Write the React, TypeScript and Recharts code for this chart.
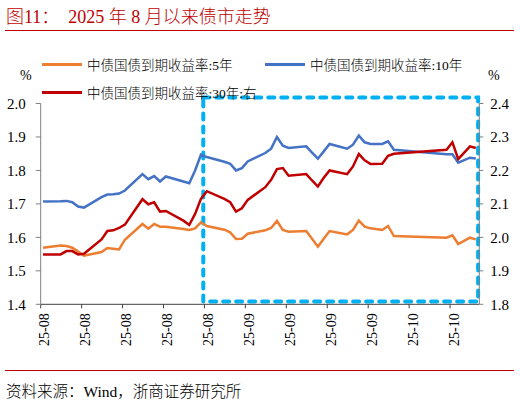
import { LineChart, Line, XAxis, YAxis, ReferenceArea } from "recharts";

// trading days, counted as days since 2025-08-01
const days = [
  0, 3, 4, 5, 6, 7, 10, 11, 12, 13, 14, 17, 18, 19, 20, 21, 24, 25, 26, 27, 28,
  31, 32, 33, 34, 35, 38, 39, 40, 41, 42, 45, 46, 47, 48, 49, 52, 53, 54, 55, 56,
  58, 59, 60, 69, 70, 71, 73, 74,
];

// 中债国债到期收益率:5年 (left axis)
const y5 = [
  1.569, 1.576, 1.574, 1.569, 1.558, 1.545, 1.556, 1.568, 1.566, 1.564, 1.593,
  1.64, 1.626, 1.64, 1.632, 1.632, 1.625, 1.622, 1.627, 1.645, 1.634,
  1.623, 1.615, 1.595, 1.596, 1.611, 1.621, 1.628, 1.649, 1.622, 1.617,
  1.619, 1.596, 1.572, 1.596, 1.619, 1.609, 1.622, 1.65, 1.632, 1.627,
  1.622, 1.634, 1.604, 1.599, 1.606, 1.58, 1.599, 1.594,
];

// 中债国债到期收益率:10年 (left axis)
const y10 = [
  1.707, 1.708, 1.709, 1.705, 1.692, 1.689, 1.72, 1.728, 1.729, 1.731, 1.74,
  1.789, 1.774, 1.783, 1.767, 1.782, 1.767, 1.762, 1.8, 1.847, 1.84,
  1.826, 1.82, 1.8, 1.807, 1.827, 1.852, 1.865, 1.9, 1.874, 1.867,
  1.872, 1.853, 1.835, 1.857, 1.879, 1.865, 1.877, 1.904, 1.884, 1.879,
  1.879, 1.887, 1.862, 1.848, 1.848, 1.823, 1.838, 1.836,
];

// 中债国债到期收益率:30年 (right axis)
const y30 = [
  1.949, 1.949, 1.959, 1.959, 1.949, 1.951, 1.994, 2.019, 2.021, 2.028, 2.038,
  2.114, 2.099, 2.105, 2.077, 2.079, 2.05, 2.037, 2.07, 2.115, 2.138,
  2.115, 2.105, 2.077, 2.087, 2.112, 2.15, 2.172, 2.204, 2.207, 2.184,
  2.189, 2.17, 2.152, 2.178, 2.2, 2.189, 2.212, 2.249, 2.23, 2.219,
  2.22, 2.244, 2.25, 2.262, 2.284, 2.234, 2.272, 2.267,
];

const xTickLabels = [
  "25-08", "25-08", "25-08", "25-08", "25-08",
  "25-09", "25-09", "25-09", "25-09",
  "25-10", "25-10",
];
const leftTicks = [1.4, 1.5, 1.6, 1.7, 1.8, 1.9, 2.0];
const rightTicks = [1.8, 1.9, 2.0, 2.1, 2.2, 2.3, 2.4];

const data = days.map((d, i) => ({ d, y5: y5[i], y10: y10[i], y30: y30[i] }));
const xTicks = xTickLabels.map((_, i) => i * 7 - 0.4);

const FONT = "'Liberation Serif', 'Noto Sans CJK SC', serif";
const RED = "#C00000";

const XTick = (props: any) => {
  const { x, y, index } = props;
  return (
    <text
      transform={`translate(${x + 4},${y + 3}) rotate(-90)`}
      textAnchor="end"
      dominantBaseline="central"
      fontSize={14}
      fontFamily={FONT}
      fill="#000"
    >
      {xTickLabels[index]}
    </text>
  );
};

const LegendItem = ({ color, label, left, top }: any) => (
  <div style={{ position: "absolute", left, top, display: "flex", alignItems: "center" }}>
    <div style={{ width: 40, height: 3, background: color }} />
    <span style={{ marginLeft: 5, fontSize: 13.5, whiteSpace: "nowrap" }}>{label}</span>
  </div>
);

export default function App() {
  return (
    <div
      style={{
        position: "absolute",
        left: 0,
        top: 0,
        width: 520,
        height: 402,
        background: "#fff",
        fontFamily: FONT,
        fontWeight: 300,
        color: "#000",
      }}
    >
      <div
        style={{
          position: "absolute",
          left: 6,
          top: 2,
          fontSize: 18,
          color: RED,
          whiteSpace: "pre",
        }}
      >
        {"图11：  2025 年 8 月以来债市走势"}
      </div>
      <div style={{ position: "absolute", left: 5, top: 30, width: 509, height: 1, background: RED }} />

      <LineChart
        width={520}
        height={402}
        data={data}
        margin={{ top: 103.5, right: 10.7, bottom: 57.7, left: 10.7 }}
      >
        <XAxis
          dataKey="d"
          type="number"
          domain={[-0.4, 74.6]}
          ticks={xTicks}
          interval={0}
          tick={<XTick />}
          tickSize={4}
          height={40}
          axisLine={{ stroke: "#404040" }}
          tickLine={{ stroke: "#404040" }}
        />
        <YAxis
          yAxisId="left"
          domain={[1.4, 2.0]}
          ticks={leftTicks}
          width={30}
          tickSize={5}
          tickMargin={10}
          tickFormatter={(v: number) => v.toFixed(1)}
          tick={{ fontSize: 15, fontFamily: FONT, fill: "#000" }}
          axisLine={{ stroke: "#808080" }}
          tickLine={{ stroke: "#808080" }}
        />
        <YAxis
          yAxisId="right"
          orientation="right"
          domain={[1.8, 2.4]}
          ticks={rightTicks}
          width={30}
          tickSize={4}
          tickMargin={7}
          tickFormatter={(v: number) => v.toFixed(1)}
          tick={{ fontSize: 15, fontFamily: FONT, fill: "#000", textAnchor: "start" }}
          axisLine={{ stroke: "#808080" }}
          tickLine={{ stroke: "#808080" }}
        />
        <Line
          yAxisId="left"
          dataKey="y5"
          stroke="#ED7D31"
          strokeWidth={2.5}
          dot={false}
          type="linear"
          isAnimationActive={false}
        />
        <Line
          yAxisId="left"
          dataKey="y10"
          stroke="#4472C4"
          strokeWidth={2.5}
          dot={false}
          type="linear"
          isAnimationActive={false}
        />
        <Line
          yAxisId="right"
          dataKey="y30"
          stroke={RED}
          strokeWidth={2.5}
          dot={false}
          type="linear"
          isAnimationActive={false}
        />
        <ReferenceArea
          yAxisId="left"
          x1={27.4}
          x2={74.4}
          y1={1.408}
          y2={2.018}
          ifOverflow="visible"
          fill="none"
          fillOpacity={0}
          stroke="#00B0F0"
          strokeWidth={4}
          strokeDasharray="6 7"
          strokeLinecap="round"
        />
      </LineChart>

      <LegendItem color="#ED7D31" label="中债国债到期收益率:5年" left={42} top={54} />
      <LegendItem color="#4472C4" label="中债国债到期收益率:10年" left={265} top={54} />
      <LegendItem color={RED} label="中债国债到期收益率:30年:右" left={42} top={82} />

      <div style={{ position: "absolute", left: 20, top: 68, fontSize: 14 }}>%</div>
      <div style={{ position: "absolute", left: 488, top: 68, fontSize: 14 }}>%</div>

      <div style={{ position: "absolute", left: 5, top: 370, width: 509, height: 1, background: RED }} />
      <div style={{ position: "absolute", left: 6, top: 379, fontSize: 15.5, whiteSpace: "nowrap" }}>
        资料来源：Wind，浙商证券研究所
      </div>
    </div>
  );
}
